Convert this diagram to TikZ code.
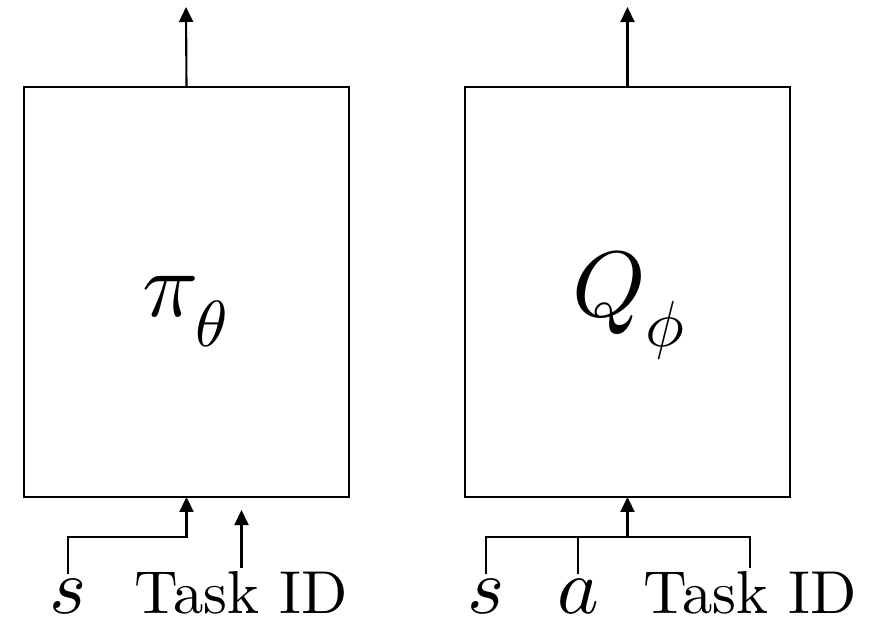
\documentclass[tikz,border=0pt]{standalone}
\usepackage{fontspec}
\setmainfont{lmroman10-regular.otf}
\DeclareFontShape{OML}{cmm}{m}{it}{<->cmmi10}{}
\usetikzlibrary{arrows.meta}
\begin{document}
\begin{tikzpicture}[
  x=0.02cm, y=-0.02cm,
  net/.style={draw=black, line width=1.2pt, rectangle,
              minimum width=6.5cm, minimum height=8.2cm,
              inner sep=0pt, outer sep=0pt},
  lab/.style={inner sep=0pt, anchor=base,
              font=\fontsize{53}{56}\selectfont},
  feed/.style={-{Triangle[length=0.3cm, width=0.28cm]}, line width=1.2pt},
  wire/.style={line width=1.2pt},
  sym/.style={inner sep=0pt, outer sep=3pt, anchor=base,
              font=\fontsize{45}{48}\selectfont},
  txt/.style={inner sep=0pt, outer sep=1.5pt, anchor=base,
              font=\fontsize{34.5}{36}\selectfont},
]
\useasboundingbox (0,0) rectangle (887,623);
% Networks
\node[net] (pi) at (186.5,292) {};
\node[net] (q)  at (627.5,292) {};
\node[lab] (pilab) at (186,316) {$\pi_\theta$};
\node[lab] (qlab)  at (629,316) {$Q_\phi$};
% Outputs
\coordinate (piout) at (186,7);
\coordinate (qout)  at (627.5,7);
\draw[feed] (pi.north) -- (piout);
\draw[feed] (q.north) -- (qout);
% Inputs, policy
\node[sym] (s1) at (68,613) {$s$};
\node[txt] (task1) at (241.5,613) {Task ID};
\coordinate (joinL) at (186.5,537);
\coordinate (taskL) at (241.5,510);
\draw[feed] (s1.north) |- (joinL) -- (pi.south);
\draw[feed] (task1.north) -- (taskL);
% Inputs, critic
\node[sym] (s2) at (486,613) {$s$};
\node[sym] (a2) at (578,613) {$a$};
\node[txt] (task2) at (750,613) {Task ID};
\coordinate (joinR) at (627.5,537);
\draw[wire] (s2.north) |- (joinR);
\draw[wire] (task2.north) |- (joinR);
\draw[wire] (a2.north) -- (a2.north |- joinR);
\draw[feed] (joinR) -- (q.south);
\end{tikzpicture}
\end{document}
